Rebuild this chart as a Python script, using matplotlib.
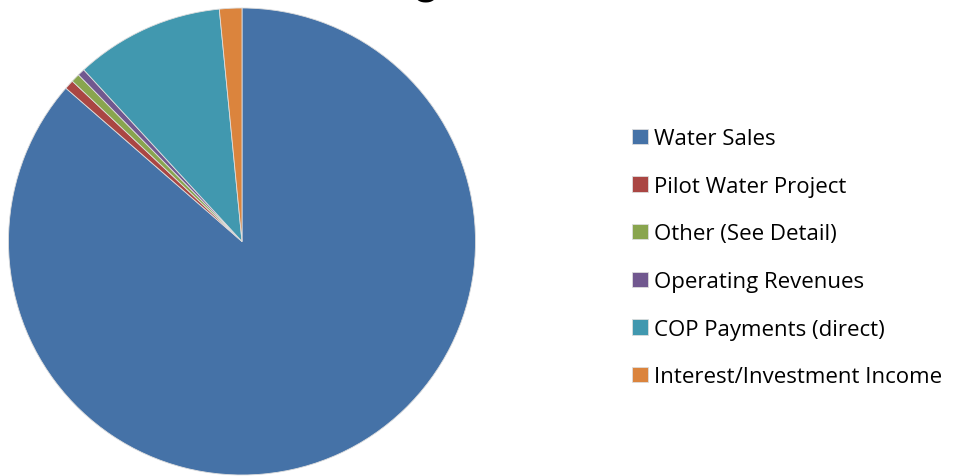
import matplotlib
matplotlib.use("Agg")
import matplotlib.pyplot as plt

# Revenue shares (percent), clockwise from 12 o'clock
categories = ['Water Sales', 'Pilot Water Project', 'Other (See Detail)',
              'Operating Revenues', 'COP Payments (direct)',
              'Interest/Investment Income']
shares = [86.4, 0.65, 0.6, 0.5, 10.3, 1.55]
colors = ['#4572A7', '#AA4643', '#89A54E', '#71588F', '#4198AF', '#DB843D']
title = 'Budgeted Revenue'

fig = plt.figure(figsize=(9.6, 4.77), dpi=100)
W, H = 960, 477

# pie axes placed so the circle sits at the left of the figure
cx, cy, r = 242, 242.5, 233.5
ax = fig.add_axes([(cx - r) / W, (H - cy - r) / H, 2 * r / W, 2 * r / H])
wedges, _ = ax.pie(shares, colors=colors, startangle=90, counterclock=False,
                   radius=1, wedgeprops=dict(edgecolor='#dddddd', linewidth=0.6))
ax.set_xlim(-1, 1)
ax.set_ylim(-1, 1)
ax.set_aspect('equal')
ax.axis('off')

# title sits above the top edge in the source; only a descender shows
fig.text(517 / W, 1.0 + 5 / H, title, ha='center', va='baseline', fontsize=30,
         fontweight='bold', family='Lato')

leg = fig.legend(wedges, categories, loc='upper left',
                 bbox_to_anchor=(621 / W, 1 - 118 / H), frameon=False,
                 prop=dict(family='Open Sans', size=16),
                 handlelength=0.7, handleheight=0.7, handletextpad=0.3,
                 labelspacing=1.2, borderpad=0)

fig.savefig('out.png', dpi=100)
